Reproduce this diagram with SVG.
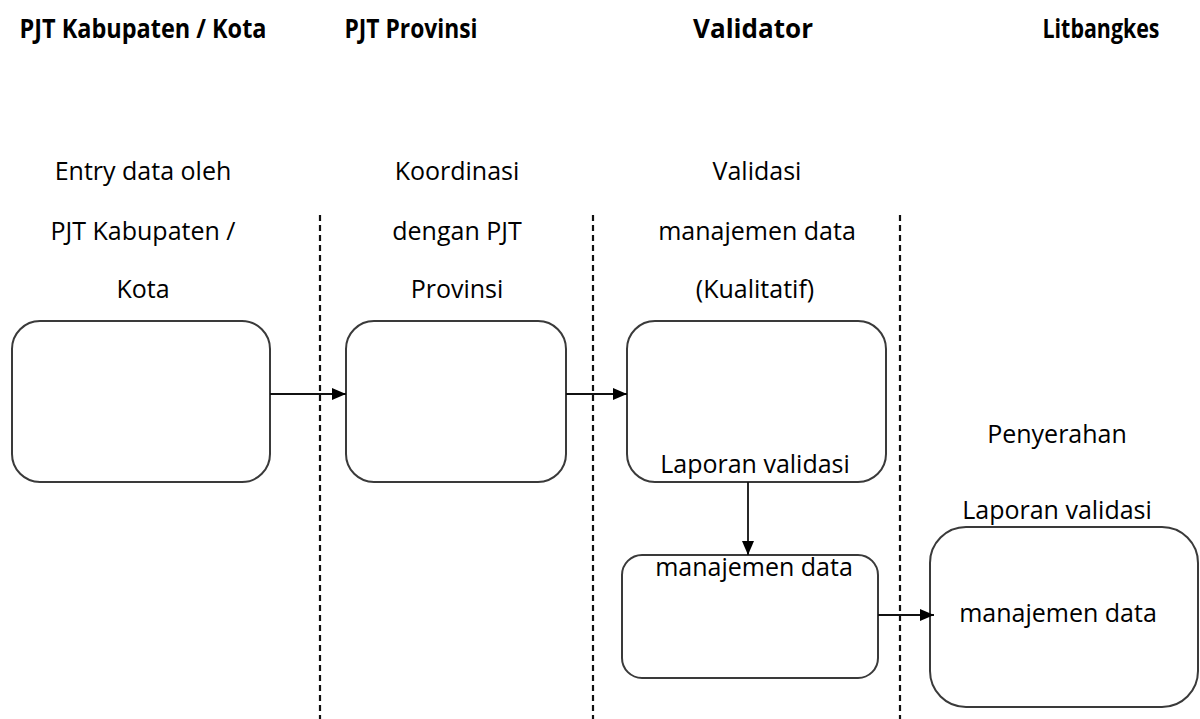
<svg xmlns="http://www.w3.org/2000/svg" width="1200" height="719" viewBox="0 0 1200 719">
<defs>
<marker id="ah" markerWidth="14" markerHeight="12" refX="14" refY="6" orient="auto" markerUnits="userSpaceOnUse">
<path d="M0,0 L14,6 L0,12 Z" fill="#000"/>
</marker>
<style>
.hd{font-family:"Open Sans","Liberation Sans",sans-serif;font-weight:bold;font-size:27px;fill:#000;text-anchor:middle}
.tx{font-family:"Open Sans","Liberation Sans",sans-serif;font-size:25px;fill:#000;text-anchor:middle}
.bx{fill:#fff;stroke:#3a3a3a;stroke-width:2}
.dl{stroke:#111;stroke-width:2.2;stroke-dasharray:6,4;fill:none}
.cn{stroke:#111;stroke-width:1.8;fill:none;marker-end:url(#ah)}
</style>
</defs>
<rect width="1200" height="719" fill="#fff"/>
<g id="headers">
<text class="hd" x="143" y="38" textLength="247" lengthAdjust="spacingAndGlyphs">PJT Kabupaten / Kota</text>
<text class="hd" x="411" y="38" textLength="133" lengthAdjust="spacingAndGlyphs">PJT Provinsi</text>
<text class="hd" x="753" y="38" textLength="120" lengthAdjust="spacingAndGlyphs">Validator</text>
<text class="hd" x="1101" y="38" textLength="117" lengthAdjust="spacingAndGlyphs">Litbangkes</text>
</g>
<g id="lanes">
<line class="dl" x1="320" y1="215" x2="320" y2="719"/>
<line class="dl" x1="593" y1="215" x2="593" y2="719"/>
<line class="dl" x1="900" y1="215" x2="900" y2="719"/>
</g>
<g id="labels">
<text class="tx" x="143" y="180">Entry data oleh</text>
<text class="tx" x="143" y="240">PJT Kabupaten /</text>
<text class="tx" x="143" y="298">Kota</text>
<text class="tx" x="457" y="180">Koordinasi</text>
<text class="tx" x="457" y="240">dengan PJT</text>
<text class="tx" x="457" y="298">Provinsi</text>
<text class="tx" x="757" y="180">Validasi</text>
<text class="tx" x="757" y="240">manajemen data</text>
<text class="tx" x="755" y="298">(Kualitatif)</text>
<text class="tx" x="1057" y="443">Penyerahan</text>
</g>
<g id="node1"><rect class="bx" x="12" y="321" width="258" height="161" rx="28"/></g>
<g id="node2"><rect class="bx" x="346" y="321" width="220" height="161" rx="28"/></g>
<g id="node3"><rect class="bx" x="627" y="321" width="259" height="161" rx="28"/>
<text class="tx" x="755" y="473">Laporan validasi</text></g>
<g id="node4"><rect class="bx" x="622" y="555" width="256" height="123" rx="20"/>
<text class="tx" x="754" y="576">manajemen data</text></g>
<g id="node5"><rect class="bx" x="930" y="527" width="268" height="180" rx="36"/>
<text class="tx" x="1057" y="519">Laporan validasi</text>
<text class="tx" x="1058" y="622">manajemen data</text></g>
<g id="connectors">
<line class="cn" x1="270" y1="394" x2="346" y2="394"/>
<line class="cn" x1="566" y1="394" x2="627" y2="394"/>
<line class="cn" x1="748" y1="482" x2="748" y2="555"/>
<line class="cn" x1="878" y1="615" x2="934" y2="615"/>
</g>
</svg>
